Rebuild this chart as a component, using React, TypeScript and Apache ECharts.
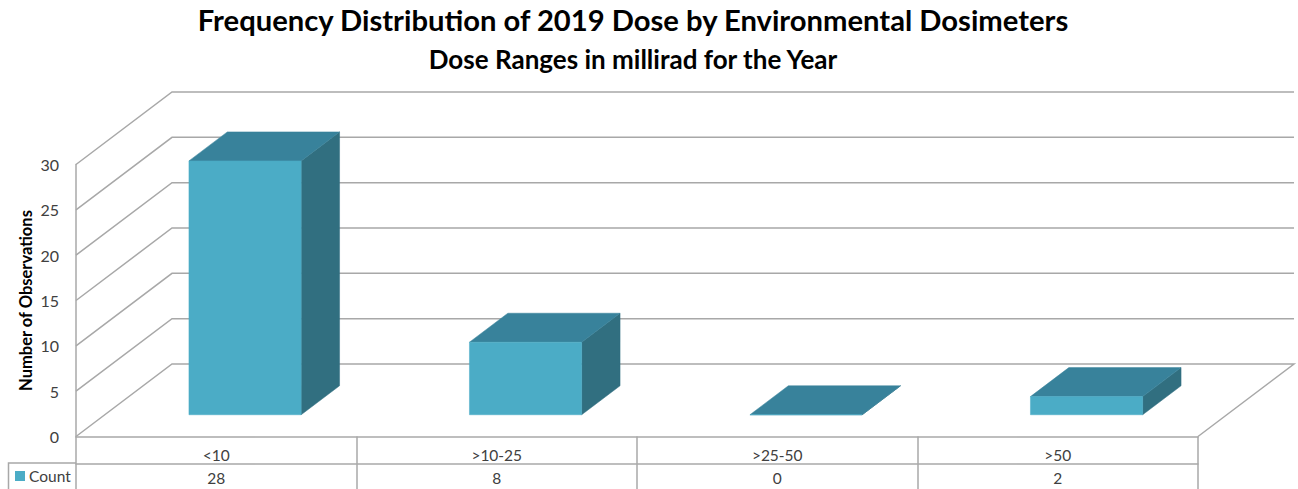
import React, { useEffect, useRef } from "react";
import * as echarts from "echarts";

const categories = ["<10", ">10-25", ">25-50", ">50"];
const counts = [28, 8, 0, 2];
const yTicks = [0, 5, 10, 15, 20, 25, 30];
const titleText = "Frequency Distribution of 2019 Dose by Environmental Dosimeters";
const subtitleText = "Dose Ranges in millirad for the Year";
const seriesName = "Count";
const yAxisName = "Number of Observations";

const FONT = "Lato";
const TEXT = "#404040";
const LINE = "#a8a8a8";
const FRONT = "#4bacc6";
const TOP = "#38829b";
const SIDE = "#316f80";
const DEPTH_X = 96;
const DEPTH_Y = 72.5;

export default function App() {
  const ref = useRef<HTMLDivElement>(null);
  useEffect(() => {
    const chart = echarts.init(ref.current!, undefined, { renderer: "svg" });
    chart.setOption({
      animation: false,
      backgroundColor: "#fff",
      textStyle: { fontFamily: FONT },
      title: [
        { text: titleText, left: 628, top: 0, textAlign: "center", textStyle: { fontFamily: FONT, fontSize: 29.2, fontWeight: "bold", color: "#000" } },
        { text: subtitleText, left: 628, top: 41, textAlign: "center", textStyle: { fontFamily: FONT, fontSize: 26, fontWeight: "bold", color: "#000" } },
      ],
      legend: {
        left: 15,
        top: 468,
        padding: 0,
        itemWidth: 10,
        itemHeight: 10,
        data: [{ name: seriesName, icon: "rect", itemStyle: { color: FRONT } }],
        textStyle: { fontFamily: FONT, fontSize: 15.5, color: TEXT, padding: [0, 0, 0, -1] },
      },
      grid: { left: 76, right: 100, top: 164.5, bottom: 52.5 },
      xAxis: [
        {
          type: "category",
          data: categories,
          axisLine: { lineStyle: { color: LINE, width: 1.5 } },
          axisTick: { show: true, length: 53, lineStyle: { color: LINE, width: 1.5 } },
          axisLabel: { fontFamily: FONT, fontSize: 15.5, color: TEXT, margin: 10 },
        },
        {
          type: "category",
          position: "bottom",
          offset: 27,
          data: counts.map(String),
          axisLine: { show: true, lineStyle: { color: LINE, width: 1.5 } },
          axisTick: { show: false },
          axisLabel: { fontFamily: FONT, fontSize: 15.5, color: TEXT, margin: 6 },
        },
      ],
      yAxis: {
        type: "value",
        min: 0,
        max: 30,
        interval: 5,
        name: yAxisName,
        nameLocation: "middle",
        nameGap: 42,
        nameMoveOverlap: false,
        nameTextStyle: { fontFamily: FONT, fontSize: 16.5, fontWeight: "bold", color: "#000" },
        splitLine: { show: false },
        axisTick: { show: false },
        axisLine: { show: true, lineStyle: { color: LINE, width: 1.5 } },
        axisLabel: { fontFamily: FONT, fontSize: 16, color: TEXT, margin: 17 },
      },
      graphic: [
        {
          type: "polyline",
          silent: true,
          shape: { points: [[8.5, 489], [8.5, 463], [76, 463]] },
          style: { stroke: LINE, lineWidth: 1.5, fill: "none" },
        },
      ],
      series: [
        {
          type: "custom",
          name: "walls",
          z: 1,
          silent: true,
          xAxisIndex: 0,
          data: yTicks.map((t) => [0, t]),
          encode: { x: 0, y: 1 },
          renderItem: (params: any, api: any) => {
            const sys = params.coordSys;
            const tick = api.value(1);
            const y = api.coord([0, tick])[1];
            const points: number[][] = [
              [sys.x, y],
              [sys.x + DEPTH_X, y - DEPTH_Y],
              [sys.x + sys.width + DEPTH_X, y - DEPTH_Y],
            ];
            if (tick === 0) points.push([sys.x + sys.width, y]);
            return {
              type: "polyline",
              shape: { points },
              style: { stroke: LINE, lineWidth: 1.5, fill: "none" },
            };
          },
        },
        {
          type: "custom",
          name: seriesName,
          z: 2,
          xAxisIndex: 0,
          itemStyle: { color: FRONT },
          data: counts.map((c, i) => [i, c]),
          encode: { x: 0, y: 1 },
          renderItem: (_params: any, api: any) => {
            const idx = api.value(0);
            const [cx, vy] = api.coord([idx, api.value(1)]);
            const by = api.coord([idx, 0])[1];
            const w = api.size([1, 0])[0] * 0.4;
            const x0 = cx + DEPTH_X * 0.3 - w / 2;
            const x1 = x0 + w;
            const top = vy - DEPTH_Y * 0.3;
            const bot = by - DEPTH_Y * 0.3;
            const dx = DEPTH_X * 0.4;
            const dy = DEPTH_Y * 0.4;
            const poly = (points: number[][], fill: string) => ({
              type: "polygon",
              shape: { points },
              style: { fill, stroke: fill, lineWidth: 0.5 },
            });
            return {
              type: "group",
              children: [
                poly([[x1, top], [x1 + dx, top - dy], [x1 + dx, bot - dy], [x1, bot]], SIDE),
                poly([[x0, top], [x0 + dx, top - dy], [x1 + dx, top - dy], [x1, top]], TOP),
                poly([[x0, top], [x1, top], [x1, bot], [x0, bot]], FRONT),
              ],
            };
          },
        },
      ],
    });
    return () => chart.dispose();
  }, []);
  return <div ref={ref} style={{ position: "fixed", left: 0, top: 0, width: 1298, height: 489 }} />;
}
